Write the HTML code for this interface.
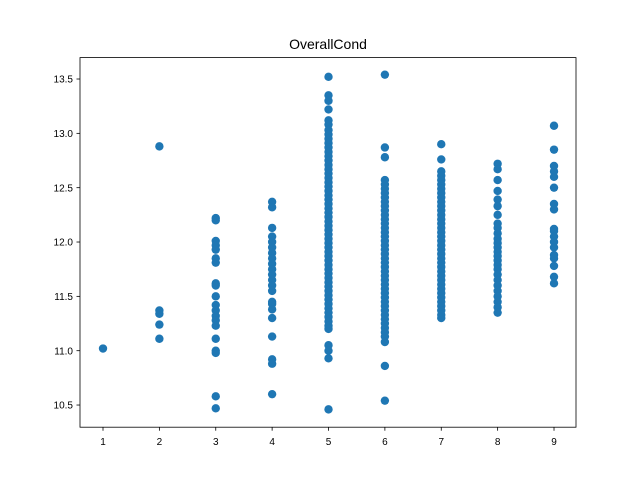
<!DOCTYPE html>
<html><head><meta charset="utf-8"><style>
html,body{margin:0;padding:0;background:#fff;}
svg text{font-family:"Liberation Sans","DejaVu Sans",sans-serif;}
</style></head><body>
<svg id="chart" width="640" height="480" xmlns="http://www.w3.org/2000/svg">
<rect width="640" height="480" fill="#fff"/>
<text x="328" y="49" text-anchor="middle" font-size="14">OverallCond</text>
<g id="marks"></g>
<g id="axes"></g>
</svg>
<script>
const xTicks = [1,2,3,4,5,6,7,8,9];
const yTicks = [10.5,11.0,11.5,12.0,12.5,13.0,13.5];
const yTickLabels = ["10.5","11.0","11.5","12.0","12.5","13.0","13.5"];
const cond1 = [11.02];
const cond2 = [12.88,11.37,11.34,11.24,11.11];
const cond3 = [12.22,12.20,12.01,11.97,11.93,11.85,11.81,11.62,11.60,11.50,11.42,11.37,11.32,11.28,11.23,11.11,11.00,10.98,10.58,10.47];
const cond4 = [12.37,12.32,12.13,12.05,12.00,11.95,11.90,11.85,11.80,11.75,11.70,11.65,11.60,11.55,11.45,11.43,11.38,11.30,11.13,10.92,10.88,10.60];
const cond5 = [13.52,13.35,13.30,13.22,13.12,13.08,13.03,12.99,12.95,12.91,12.87,12.83,12.79,12.75,12.71,12.67,12.63,12.59,12.55,12.51,12.47,12.43,12.39,12.35,12.31,12.27,12.23,12.19,12.15,12.11,12.07,12.03,11.99,11.95,11.91,11.87,11.83,11.79,11.75,11.71,11.67,11.63,11.59,11.55,11.51,11.47,11.43,11.39,11.35,11.31,11.27,11.23,11.20,11.05,11.00,10.93,10.46];
const cond6 = [13.54,12.87,12.78,12.57,12.53,12.49,12.45,12.41,12.37,12.33,12.29,12.25,12.21,12.17,12.13,12.09,12.05,12.01,11.97,11.93,11.89,11.85,11.81,11.77,11.73,11.69,11.65,11.61,11.57,11.53,11.49,11.45,11.41,11.37,11.33,11.29,11.25,11.21,11.17,11.13,11.08,10.86,10.54];
const cond7 = [12.90,12.76,12.65,12.61,12.57,12.53,12.49,12.45,12.41,12.37,12.33,12.29,12.25,12.21,12.17,12.13,12.09,12.05,12.01,11.97,11.93,11.89,11.85,11.81,11.77,11.73,11.69,11.65,11.61,11.57,11.53,11.49,11.45,11.41,11.37,11.33,11.30];
const cond8 = [12.72,12.67,12.57,12.47,12.39,12.33,12.25,12.17,12.13,12.08,12.03,11.99,11.95,11.91,11.87,11.83,11.79,11.75,11.70,11.65,11.60,11.55,11.50,11.45,11.40,11.35];
const cond9 = [13.07,12.85,12.70,12.65,12.60,12.50,12.35,12.30,12.12,12.10,12.05,12.00,11.95,11.88,11.85,11.78,11.68,11.62];
const series = [cond1,cond2,cond3,cond4,cond5,cond6,cond7,cond8,cond9];

const L=80,R=576,T=57.6,B=427.2;
const xMin=0.592,xMax=9.39,yMin=10.296,yMax=13.697;
const xs=v=>L+(v-xMin)/(xMax-xMin)*(R-L);
const ys=v=>B-(v-yMin)/(yMax-yMin)*(B-T);
const NS="http://www.w3.org/2000/svg";
const marks=document.getElementById('marks');
series.forEach((arr,i)=>{
  arr.forEach(v=>{
    const c=document.createElementNS(NS,'circle');
    c.setAttribute('cx',xs(xTicks[i]));
    c.setAttribute('cy',ys(v));
    c.setAttribute('r',4.2);
    c.setAttribute('fill','#1f77b4');
    
    
    marks.appendChild(c);
  });
});
const axes=document.getElementById('axes');
const fr=document.createElementNS(NS,'rect');
fr.setAttribute('x',L);fr.setAttribute('y',T);fr.setAttribute('width',R-L);fr.setAttribute('height',B-T);
fr.setAttribute('fill','none');fr.setAttribute('stroke','#000');fr.setAttribute('stroke-width','0.8');


axes.appendChild(fr);
xTicks.forEach(t=>{
  const x=xs(t);
  const l=document.createElementNS(NS,'line');
  l.setAttribute('x1',x);l.setAttribute('x2',x);l.setAttribute('y1',B);l.setAttribute('y2',B+3.5);
  l.setAttribute('stroke','#000');l.setAttribute('stroke-width','0.8');
  
  
  axes.appendChild(l);
  const tx=document.createElementNS(NS,'text');
  tx.setAttribute('x',x);tx.setAttribute('y',B+18);tx.setAttribute('text-anchor','middle');tx.setAttribute('font-size','10');
  tx.textContent=String(t);
  
  
  axes.appendChild(tx);
});
yTicks.forEach((t,i)=>{
  const y=ys(t);
  const l=document.createElementNS(NS,'line');
  l.setAttribute('x1',L-3.5);l.setAttribute('x2',L);l.setAttribute('y1',y);l.setAttribute('y2',y);
  l.setAttribute('stroke','#000');l.setAttribute('stroke-width','0.8');
  
  
  axes.appendChild(l);
  const tx=document.createElementNS(NS,'text');
  tx.setAttribute('x',L-7);tx.setAttribute('y',y+3.6);tx.setAttribute('text-anchor','end');tx.setAttribute('font-size','10');
  tx.textContent=yTickLabels[i];
  
  
  axes.appendChild(tx);
});
</script>
</body></html>
